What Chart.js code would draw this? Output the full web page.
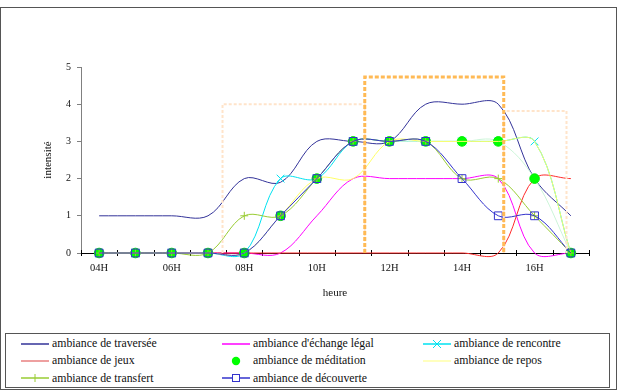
<!DOCTYPE html>
<html><head><meta charset="utf-8">
<script src="https://cdn.jsdelivr.net/npm/chart.js@4/dist/chart.umd.min.js"></script>
<style>
html,body{margin:0;padding:0;background:#fff;}
#wrap{position:relative;width:618px;height:391px;overflow:hidden;font-family:'Liberation Serif','Times New Roman',serif;}
#frame{position:absolute;left:0;top:7px;width:615px;height:381px;border:1px solid #555;}
#cv{position:absolute;left:0;top:0;}
#legend{position:absolute;left:5px;top:333px;width:603px;height:53px;border:1px solid #555;}
.item{position:absolute;height:16px;display:flex;align-items:center;font-size:11.8px;color:#111;white-space:nowrap;}
.item svg{margin-right:3px;flex:none;}
</style></head>
<body><div id="wrap"><div id="frame"></div><div id="legend"></div><canvas id="cv" width="618" height="330"></canvas></div>
<script>
// ---- data ----
const hours = [4,5,6,7,8,9,10,11,12,13,14,15,16,17];
const hourLabels = ['04H','05H','06H','07H','08H','09H','10H','11H','12H','13H','14H','15H','16H','17H'];
const yTicks = [0,1,2,3,4,5];
const seriesNames = ['ambiance de traversée',"ambiance d'échange légal",'ambiance de rencontre','ambiance de jeux','ambiance de méditation','ambiance de repos','ambiance de transfert','ambiance de découverte'];
const traversee  = [1,1,1,1,2,1.9,3,3,3,4,4,4,2,1];
const echange    = [0,0,0,0,0,0,1,2,2,2,2,2,0,0];
const rencontre  = [0,0,0,0,0,2,2,3,3,3,3,3,3,0];
const jeux       = [0,0,0,0,0,0,0,0,0,0,0,0,2,2];
const meditation = [0,0,0,0,0,1,2,3,3,3,3,3,2,0];
const repos      = [0,0,0,0,0,1,2,2,3,3,3,3,3,0];
const transfert  = [0,0,0,0,1,1,2,3,3,3,2,2,1,0];
const decouverte = [0,0,0,0,0,1,2,3,3,3,2,1,1,0];
// highlighted zones (hour units, intensity level)
const zoneStart = [7.4, 15.15, 11.32];
const zoneEnd   = [11.32, 16.88, 15.15];
const zoneLevel = [4.0, 3.82, 4.73];

// ---- styles ----
const seriesStyles = [
  {color:'#333399', marker:null, line:true},
  {color:'#FF00FF', marker:null, line:true},
  {color:'#00E2F0', marker:'crossRot', line:true, r:5.5},
  {color:'#FF2A2A', marker:null, line:true, legendColor:'#E88080'},
  {color:'#CCF5D8', marker:'circle', line:false, r:4.8, fill:'#00FF00', mcolor:'#00EE00'},
  {color:'#FFFF66', marker:null, line:true, legendColor:'#FFFFA8'},
  {color:'#99CC33', marker:'cross', line:true, r:4},
  {color:'#3333CC', marker:'rect', line:true, r:5.5}
];
const zoneStyles = [
  {color:'#FFE4CA', width:2, dash:[3,2]},
  {color:'#FFE4CA', width:2, dash:[3,2]},
  {color:'#FFBA55', width:3, dash:[4,2]}
];

const seriesData = [traversee, echange, rencontre, jeux, meditation, repos, transfert, decouverte];

const datasets = seriesData.map((vals, i) => {
  const s = seriesStyles[i];
  return {
    label: seriesNames[i],
    data: hours.map((h, k) => ({x: h, y: vals[k]})),
    borderColor: s.color,
    borderWidth: 1,
    tension: 0.36,
    fill: false,
    clip: false,
    order: 20 - i,
    pointStyle: s.marker || 'circle',
    pointRadius: s.marker ? s.r : 0,
    pointHoverRadius: s.marker ? s.r : 0,
    pointBorderColor: s.mcolor || s.color,
    pointBackgroundColor: s.fill || 'rgba(255,255,255,0)',
    pointBorderWidth: 1
  };
});

zoneStart.forEach((x0, i) => {
  const x1 = zoneEnd[i], top = zoneLevel[i], st = zoneStyles[i];
  datasets.push({
    label: 'zone' + i,
    data: [{x:x0,y:0},{x:x0,y:top},{x:x1,y:top},{x:x1,y:0}],
    borderColor: st.color,
    borderWidth: st.width,
    borderDash: st.dash,
    tension: 0,
    pointRadius: 0,
    pointHoverRadius: 0,
    fill: false,
    clip: false,
    order: 5 - i
  });
});

const crossTicks = {
  id: 'crossTicks',
  beforeDatasetsDraw(chart) {
    const xs = chart.scales.x, ys = chart.scales.y, ctx = chart.ctx;
    const y0 = ys.getPixelForValue(0);
    ctx.save();
    ctx.strokeStyle = '#000';
    ctx.lineWidth = 1;
    ctx.beginPath();
    xs.ticks.forEach(t => {
      if (t.value % 1 !== 0) {
        const x = Math.round(xs.getPixelForValue(t.value)) + 0.5;
        ctx.moveTo(x, y0 - 3);
        ctx.lineTo(x, y0 + 3);
      }
    });
    ctx.stroke();
    ctx.restore();
  }
};

const serif = "'Liberation Serif','Times New Roman',serif";

new Chart(document.getElementById('cv'), {
  type: 'line',
  data: { datasets },
  options: {
    responsive: false,
    animation: false,
    events: [],
    layout: { padding: { top: 67, right: 29, left: 0, bottom: 0 } },
    elements: { line: { capBezierPoints: false } },
    plugins: { legend: { display: false }, tooltip: { enabled: false } },
    scales: {
      x: {
        type: 'linear',
        min: hours[0] - 0.5,
        max: hours[hours.length - 1] + 0.5,
        afterFit: s => { s.height = 77; },
        afterBuildTicks: s => {
          const arr = [];
          for (let v = s.min; v <= s.max + 1e-9; v += 0.5) arr.push({ value: v });
          s.ticks = arr;
        },
        border: { display: true, color: '#000', width: 1 },
        grid: { display: true, drawOnChartArea: false, drawTicks: true, tickLength: 3, color: 'rgba(0,0,0,0)' },
        ticks: {
          autoSkip: false, maxRotation: 0, padding: 6, color: '#111',
          font: { family: serif, size: 10.5 },
          callback: v => {
            const k = hours.indexOf(v);
            return (k >= 0 && v % 2 === 0) ? hourLabels[k] : '';
          }
        },
        title: { display: true, text: 'heure', color: '#111', font: { family: serif, size: 11 }, padding: { top: 0, bottom: 30 } }
      },
      y: {
        min: yTicks[0],
        max: yTicks[yTicks.length - 1],
        afterFit: s => { s.width = 81; },
        border: { display: true, color: '#808080', width: 1 },
        grid: { display: true, drawOnChartArea: false, drawTicks: true, tickLength: 4, color: '#808080' },
        ticks: { stepSize: 1, padding: 6, color: '#111', font: { family: serif, size: 10 } },
        title: { display: true, text: 'intensité', color: '#111', font: { family: serif, size: 11 }, padding: { top: 42, bottom: 0 } }
      }
    }
  },
  plugins: [crossTicks]
});

// ---- HTML legend ----
const legendCols = [21, 222, 423];
const legendRows = [343.5, 360.5, 378];
const wrap = document.getElementById('wrap');
seriesNames.forEach((name, i) => {
  const s = seriesStyles[i];
  const col = i % 3, row = Math.floor(i / 3);
  const c = s.legendColor || s.color;
  let svg = '<svg width="28" height="12" viewBox="0 0 28 12">';
  if (s.line) svg += '<line x1="0" y1="6" x2="28" y2="6" stroke="' + c + '" stroke-width="1.5"/>';
  if (s.marker === 'crossRot') svg += '<path d="M10 2L18 10M18 2L10 10" stroke="' + s.color + '" stroke-width="1"/>';
  if (s.marker === 'circle') svg += '<circle cx="14" cy="6" r="4.2" fill="' + s.fill + '"/>';
  if (s.marker === 'cross') svg += '<path d="M14 2V10" stroke="' + s.color + '" stroke-width="1"/>';
  if (s.marker === 'rect') svg += '<rect x="10.5" y="2.5" width="7" height="7" fill="#fff" stroke="' + s.color + '" stroke-width="1"/>';
  svg += '</svg>';
  const d = document.createElement('div');
  d.className = 'item';
  d.style.left = legendCols[col] + 'px';
  d.style.top = (legendRows[row] - 8) + 'px';
  d.innerHTML = svg + '<span>' + name + '</span>';
  wrap.appendChild(d);
});
</script>
</body></html>
